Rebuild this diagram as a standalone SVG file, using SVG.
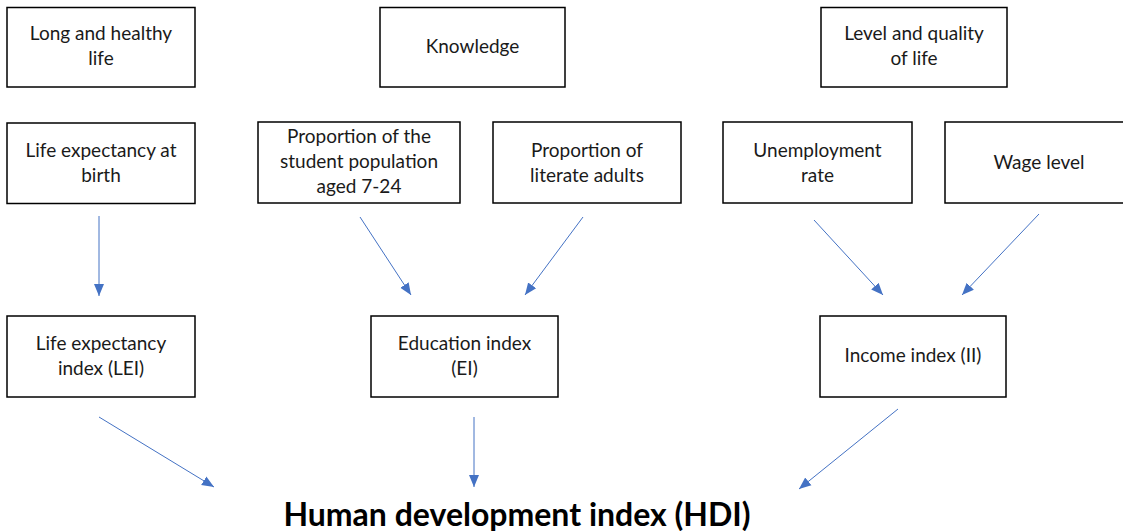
<svg xmlns="http://www.w3.org/2000/svg" width="1123" height="531" viewBox="0 0 1123 531">
  <style>
    .box { fill: #ffffff; stroke: #000000; stroke-width: 1.5; }
    .lbl { font-family: Lato, "Liberation Sans", sans-serif; font-size: 19px; fill: #1a1a1a; text-anchor: middle; }
    .title { font-family: Lato, "Liberation Sans", sans-serif; font-size: 32px; font-weight: bold; fill: #000000; text-anchor: middle; }
    .conn { stroke: #4472C4; stroke-width: 1; fill: none; marker-end: url(#arrow); }
  </style>
  <defs>
    <marker id="arrow" markerUnits="userSpaceOnUse" markerWidth="14" markerHeight="14" viewBox="0 0 14 14" refX="12" refY="7" orient="auto">
      <path d="M0,2 L12,7 L0,12 Z" fill="#4472C4"/>
    </marker>
  </defs>
  <rect width="1123" height="531" fill="#ffffff"/>

  <g id="long-healthy-life">
    <rect class="box" x="7" y="7.5" width="188" height="79.5"/>
    <text class="lbl" x="101" y="40">Long and healthy</text>
    <text class="lbl" x="101" y="65">life</text>
  </g>
  <g id="knowledge">
    <rect class="box" x="380" y="7.5" width="185" height="79.5"/>
    <text class="lbl" x="472.5" y="53">Knowledge</text>
  </g>
  <g id="level-quality-life">
    <rect class="box" x="821" y="7.5" width="186" height="79.5"/>
    <text class="lbl" x="914" y="40">Level and quality</text>
    <text class="lbl" x="914" y="65">of life</text>
  </g>

  <g id="life-expectancy-birth">
    <rect class="box" x="7" y="123" width="188" height="80.5"/>
    <text class="lbl" x="101" y="157">Life expectancy at</text>
    <text class="lbl" x="101" y="182">birth</text>
  </g>
  <g id="student-population">
    <rect class="box" x="258" y="122" width="202" height="81"/>
    <text class="lbl" x="359" y="143">Proportion of the</text>
    <text class="lbl" x="359" y="168">student population</text>
    <text class="lbl" x="359" y="193">aged 7-24</text>
  </g>
  <g id="literate-adults">
    <rect class="box" x="493" y="122" width="188" height="81"/>
    <text class="lbl" x="587" y="157">Proportion of</text>
    <text class="lbl" x="587" y="182">literate adults</text>
  </g>
  <g id="unemployment-rate">
    <rect class="box" x="723" y="122" width="189" height="81"/>
    <text class="lbl" x="817.5" y="157">Unemployment</text>
    <text class="lbl" x="817.5" y="182">rate</text>
  </g>
  <g id="wage-level">
    <rect class="box" x="945" y="122" width="190" height="81"/>
    <text class="lbl" x="1039" y="169">Wage level</text>
  </g>

  <g id="lei">
    <rect class="box" x="7" y="316" width="188" height="81"/>
    <text class="lbl" x="101" y="350">Life expectancy</text>
    <text class="lbl" x="101" y="375">index (LEI)</text>
  </g>
  <g id="ei">
    <rect class="box" x="371" y="316" width="187" height="81"/>
    <text class="lbl" x="464.5" y="350">Education index</text>
    <text class="lbl" x="464.5" y="375">(EI)</text>
  </g>
  <g id="ii">
    <rect class="box" x="820" y="316" width="186" height="81"/>
    <text class="lbl" x="913" y="362">Income index (II)</text>
  </g>

  <g id="hdi">
    <text class="title" x="517" y="526">Human development index (HDI)</text>
  </g>

  <g id="connectors">
    <line class="conn" x1="99" y1="216" x2="99" y2="296"/>
    <line class="conn" x1="360" y1="217" x2="411" y2="295"/>
    <line class="conn" x1="583" y1="217" x2="525" y2="295"/>
    <line class="conn" x1="814" y1="220" x2="883" y2="295"/>
    <line class="conn" x1="1039" y1="214" x2="962" y2="295"/>
    <line class="conn" x1="99" y1="417" x2="214" y2="487"/>
    <line class="conn" x1="474" y1="417" x2="474" y2="487"/>
    <line class="conn" x1="898" y1="409" x2="799" y2="489"/>
  </g>
</svg>
